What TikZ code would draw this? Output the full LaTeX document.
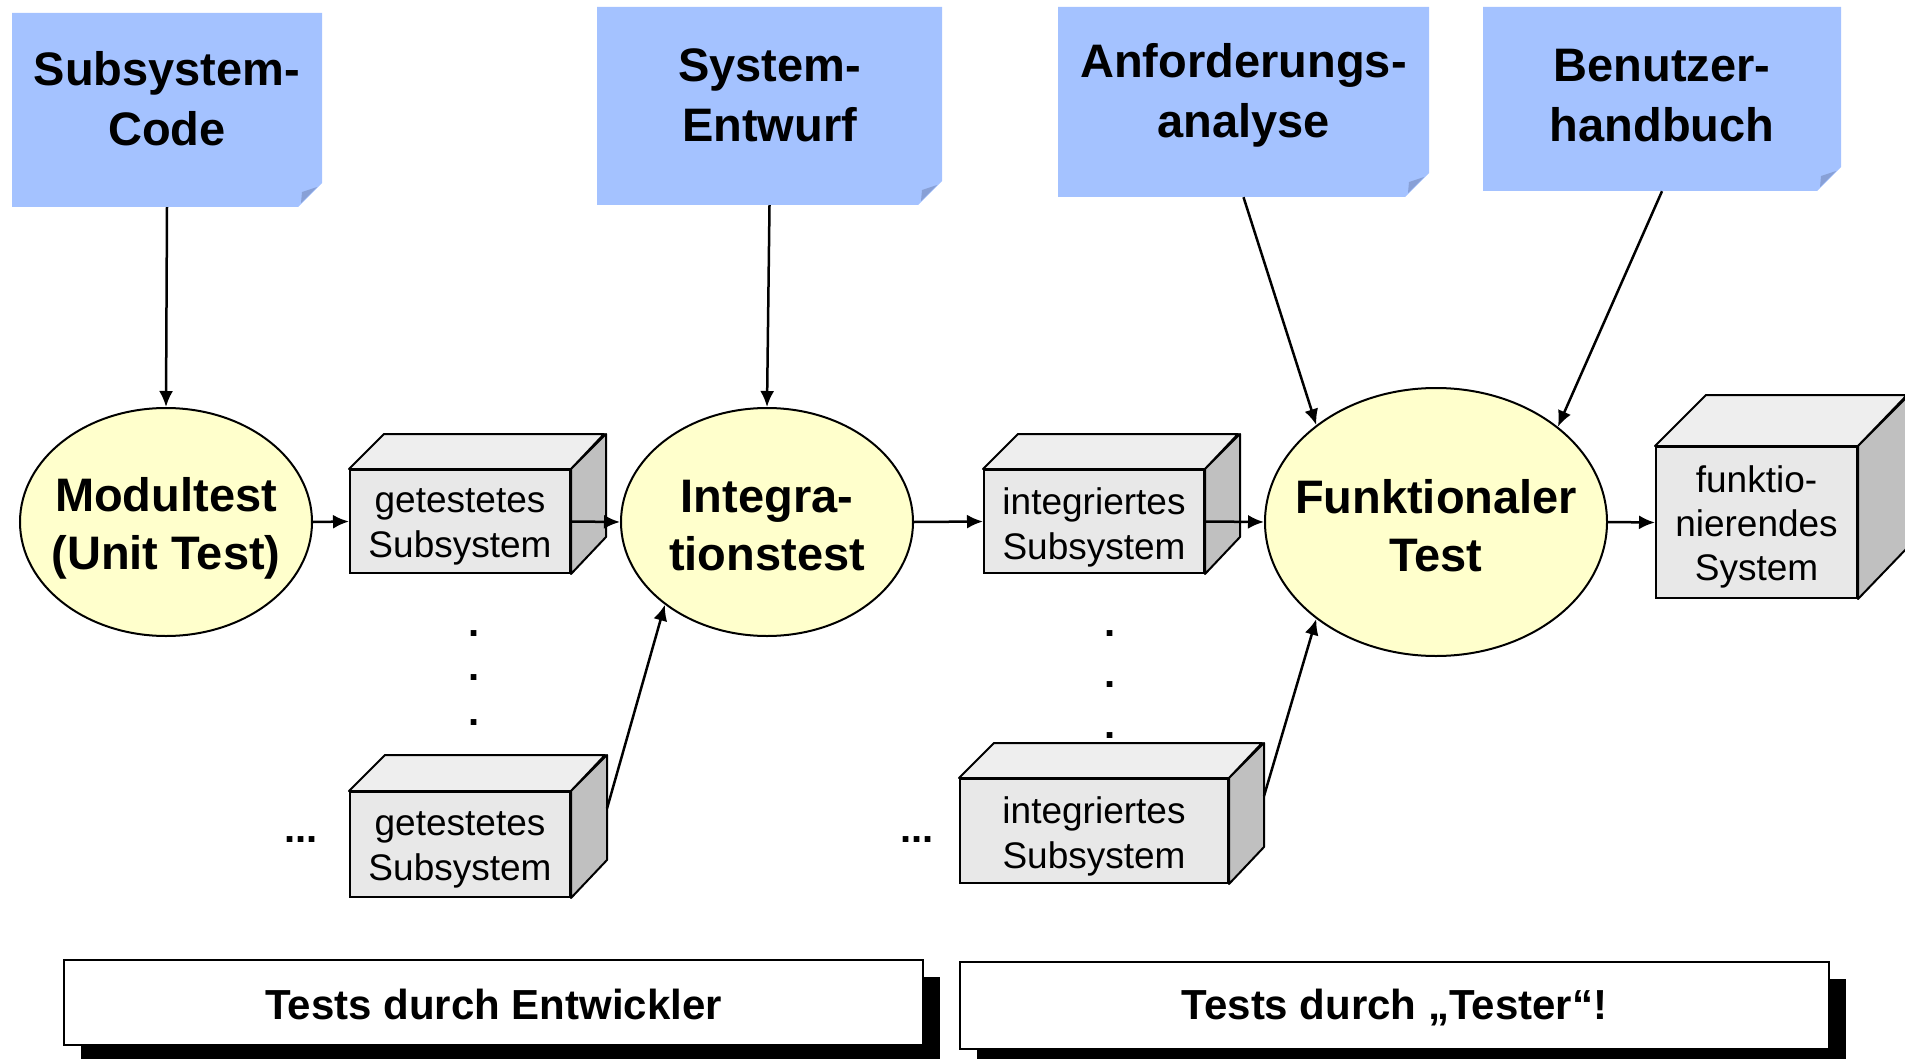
\documentclass[tikz,border=0pt]{standalone}
\usepackage{fontspec}
\setmainfont{Liberation Sans}
\usetikzlibrary{arrows.meta,shapes.geometric,shadows}
\definecolor{noteblue}{RGB}{164,194,255}
\definecolor{notefold}{RGB}{136,160,214}
\definecolor{ellfill}{RGB}{255,255,204}
\definecolor{cubefront}{RGB}{232,232,232}
\definecolor{cubetop}{RGB}{238,238,238}
\definecolor{cubeside}{RGB}{192,192,192}
\tikzset{
  conn/.style={line width=2.5pt,-{Latex[length=16pt,width=14pt]}},
  proc/.style={ellipse,draw,line width=2pt,fill=ellfill,inner sep=0pt},
  proctext/.style={align=center,inner sep=0pt,font=\fontsize{47}{58}\selectfont\bfseries},
  notetext/.style={align=center,inner sep=0pt,font=\fontsize{47}{60}\selectfont\bfseries},
  cubefrontst/.style={rectangle,draw,line width=2pt,fill=cubefront,inner sep=0pt},
  cubetext/.style={align=center,inner sep=0pt,font=\fontsize{37}{45}\selectfont},
  cubeface/.style={draw,line width=2pt,line join=round},
  bar/.style={rectangle,draw,line width=2pt,fill=white,inner sep=0pt,
    drop shadow={shadow xshift=17pt,shadow yshift=-17pt,fill=black,opacity=1}},
  bartext/.style={inner sep=0pt,font=\fontsize{42}{50}\selectfont\bfseries},
  dotst/.style={anchor=base,inner sep=0pt,font=\fontsize{40}{40}\selectfont\bfseries},
}
\begin{document}
\begin{tikzpicture}[x=1pt,y=-1pt]
\useasboundingbox (0,0) rectangle (1905,1059);

% ---------- notes ----------
\fill[noteblue] (12,13) -- (322,13) -- (322,183) -- (298,207) -- (12,207) -- cycle;
\fill[notefold] (301,203) -- (302,192) -- (317,187) -- cycle;
\node[rectangle,inner sep=0pt,minimum width=310pt,minimum height=194pt] (n1) at (167,110) {};
\node[notetext] (n1t) at (167,99) {Subsystem-\\Code};

\fill[noteblue] (597,7) -- (942,7) -- (942,181) -- (918,205) -- (597,205) -- cycle;
\fill[notefold] (921,201) -- (922,190) -- (937,185) -- cycle;
\node[rectangle,inner sep=0pt,minimum width=345pt,minimum height=198pt] (n2) at (769.5,106) {};
\node[notetext] (n2t) at (769.5,95) {System-\\Entwurf};

\fill[noteblue] (1058,7) -- (1429,7) -- (1429,173) -- (1405,197) -- (1058,197) -- cycle;
\fill[notefold] (1408,193) -- (1409,182) -- (1424,177) -- cycle;
\node[rectangle,inner sep=0pt,minimum width=371pt,minimum height=190pt] (n3) at (1243.5,102) {};
\node[notetext] (n3t) at (1243.5,95) {Anforderungs-\\analyse};

\fill[noteblue] (1483,7) -- (1841,7) -- (1841,167) -- (1817,191) -- (1483,191) -- cycle;
\fill[notefold] (1820,187) -- (1821,176) -- (1836,171) -- cycle;
\node[rectangle,inner sep=0pt,minimum width=358pt,minimum height=184pt] (n4) at (1662,99) {};
\node[notetext] (n4t) at (1662,96) {Benutzer-\\handbuch};

% ---------- processes ----------
\node[proc,minimum width=292pt,minimum height=228pt] (mod) at (166,522) {};
\node[proctext] (modt) at (166,528) {Modultest\\(Unit Test)};
\node[proc,minimum width=292pt,minimum height=228pt] (integ) at (767,522) {};
\node[proctext] (integt) at (767,526) {Integra-\\tionstest};
\node[proc,minimum width=342pt,minimum height=268pt] (funk) at (1436,522) {};
\node[proctext] (funkt) at (1436,526) {Funktionaler\\Test};

% ---------- cubes ----------
% A: getestetes (top)
\node[cubefrontst,minimum width=220pt,minimum height=103pt] (cA) at (460,521.5) {};
\filldraw[cubeface,fill=cubetop] (cA.north west) -- ++(35,-35) -- ++(220,0) -- (cA.north east) -- cycle;
\filldraw[cubeface,fill=cubeside] (cA.north east) -- ++(35,-35) -- ++(0,103) -- (cA.south east) -- cycle;
\node[cubetext] (cAt) at (460,527) {getestetes\\Subsystem};
% B: getestetes (bottom)
\node[cubefrontst,minimum width=220pt,minimum height=105pt] (cB) at (460,844.5) {};
\filldraw[cubeface,fill=cubetop] (cB.north west) -- ++(36,-36) -- ++(220,0) -- (cB.north east) -- cycle;
\filldraw[cubeface,fill=cubeside] (cB.north east) -- ++(36,-36) -- ++(0,105) -- (cB.south east) -- cycle;
\node[cubetext] (cBt) at (460,850) {getestetes\\Subsystem};
% C: integriertes (top)
\node[cubefrontst,minimum width=220pt,minimum height=103pt] (cC) at (1094,521.5) {};
\filldraw[cubeface,fill=cubetop] (cC.north west) -- ++(35,-35) -- ++(220,0) -- (cC.north east) -- cycle;
\filldraw[cubeface,fill=cubeside] (cC.north east) -- ++(35,-35) -- ++(0,103) -- (cC.south east) -- cycle;
\node[cubetext] (cCt) at (1094,527) {integriertes\\Subsystem};
% D: integriertes (bottom)
\node[cubefrontst,minimum width=268pt,minimum height=104pt] (cD) at (1094,831) {};
\filldraw[cubeface,fill=cubetop] (cD.north west) -- ++(35,-35) -- ++(268,0) -- (cD.north east) -- cycle;
\filldraw[cubeface,fill=cubeside] (cD.north east) -- ++(35,-35) -- ++(0,104) -- (cD.south east) -- cycle;
\node[cubetext] (cDt) at (1094,836) {integriertes\\Subsystem};
% E: funktionierendes System
\node[cubefrontst,minimum width=201pt,minimum height=151pt] (cE) at (1756.5,522.5) {};
\filldraw[cubeface,fill=cubetop] (cE.north west) -- ++(51,-51) -- ++(201,0) -- (cE.north east) -- cycle;
\filldraw[cubeface,fill=cubeside] (cE.north east) -- ++(51,-51) -- ++(0,151) -- (cE.south east) -- cycle;
\node[cubetext,font=\fontsize{37}{44}\selectfont] (cEt) at (1756.5,527) {funktio-\\nierendes\\System};

% ---------- dots ----------
\node[dotst] (v1) at (474,636) {.};
\node[dotst] (v2) at (474,680) {.};
\node[dotst] (v3) at (474,725) {.};
\node[dotst] (v4) at (1110,636) {.};
\node[dotst] (v5) at (1110,687) {.};
\node[dotst] (v6) at (1110,738) {.};
\node[dotst] (e1) at (301,842) {...};
\node[dotst] (e2) at (917,842) {...};

% ---------- connectors ----------
\draw[conn] (n1.south) -- (mod.north);
\draw[conn] (n2.south) -- (integ.north);
\draw[conn] (n3.south) -- (funk.141);
\draw[conn] (n4.south) -- (funk.38);
\draw[conn] (mod.east) -- (cA.west);
\draw[conn] (cA.east) -- (integ.west);
\draw[conn] (integ.east) -- (cC.west);
\draw[conn] (cC.east) -- (funk.west);
\draw[conn] (funk.east) -- (cE.west);
\draw[conn] ([shift={(36,-36)}]cB.east) -- (integ.219);
\draw[conn] ([shift={(35,-35)}]cD.east) -- (funk.219);

% ---------- bars ----------
\node[bar,minimum width=859pt,minimum height=85pt] (bar1) at (493.5,1002.5) {};
\node[bartext] (bar1t) at (493.5,1004) {Tests durch Entwickler};
\node[bar,minimum width=869pt,minimum height=87pt] (bar2) at (1394.5,1005.5) {};
\node[bartext] (bar2t) at (1394.5,1008) {Tests durch „Tester“!};
\end{tikzpicture}
\end{document}
